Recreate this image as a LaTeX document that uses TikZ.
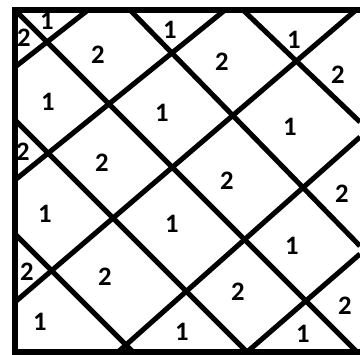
\documentclass[tikz,border=0pt]{standalone}
\usepackage{fontspec}
\setmainfont{Carlito}
\usetikzlibrary{positioning}

\tikzset{
  frameline/.style={line width=4.8pt, line join=miter},
  gridline/.style={line width=3.8pt},
  num/.style={font=\fontsize{20}{20}\selectfont\bfseries, inner sep=0pt}
}

\begin{document}
\begin{tikzpicture}[x=0.75pt,y=-0.75pt]
        \useasboundingbox (0,0) rectangle (360,354);

        % frame (open on the right)
        \draw[frameline] (360,10) -- (15,10) -- (15,352) -- (360,352);

        % lines going down to the right
        \draw[gridline] (15,10) -- (357,352);
        \draw[gridline] (130,10) -- (360,246);
        \draw[gridline] (243,10) -- (360,122);
        \draw[gridline] (15,120) -- (247,352);
        \draw[gridline] (15,234) -- (133,352);

        % lines going up to the right
        \draw[gridline] (15,67) -- (88,10);
        \draw[gridline] (15,180) -- (225,10);
        \draw[gridline] (15,302) -- (356,10);
        \draw[gridline] (118,352) -- (360,137);
        \draw[gridline] (247,352) -- (360,254);

        % numbers
        \node[num] (a1) at (47,21) {1};
        \node[num] (a2) at (24,38) {2};
        \node[num] (a3) at (98,55) {2};
        \node[num] (a4) at (170,30) {1};
        \node[num] (a5) at (222,62) {2};
        \node[num] (a6) at (294,40) {1};
        \node[num] (a7) at (338,75) {2};

        \node[num] (b1) at (48,102) {1};
        \node[num] (b2) at (162,113) {1};
        \node[num] (b3) at (290,127) {1};

        \node[num] (c1) at (23,152) {2};
        \node[num] (c2) at (102,163) {2};
        \node[num] (c3) at (227,181) {2};
        \node[num] (c4) at (342,194) {2};

        \node[num] (d1) at (45,214) {1};
        \node[num] (d2) at (172,224) {1};
        \node[num] (d3) at (292,246) {1};

        \node[num] (e1) at (27,272) {2};
        \node[num] (e2) at (105,277) {2};
        \node[num] (e3) at (238,292) {2};
        \node[num] (e4) at (345,306) {2};

        \node[num] (f1) at (40,322) {1};
        \node[num] (f2) at (182,332) {1};
        \node[num] (f3) at (303,334) {1};
      \end{tikzpicture}
\end{document}
